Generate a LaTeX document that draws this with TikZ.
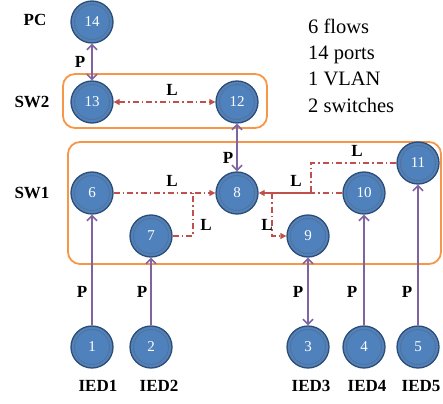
\documentclass[tikz,border=0pt]{standalone}
\usepackage{fontspec}
\setmainfont{Liberation Serif}
\usetikzlibrary{arrows.meta}

\definecolor{portblue}{HTML}{4F81BD}
\definecolor{portedge}{HTML}{2C4D75}
\definecolor{physline}{HTML}{8064A2}
\definecolor{logline}{HTML}{C0504D}
\definecolor{swbox}{HTML}{F79646}

\tikzset{
  pa/.tip={Straight Barb[length=5pt,width=10pt,line width=1.6pt]},
  la/.tip={Triangle[length=6pt,width=6pt]},
  port/.style={circle, fill=portblue, draw=portedge, line width=1.3pt,
    minimum size=42pt, inner sep=0pt, text=white,
    font=\fontsize{15}{15}\selectfont,
    path picture={\draw[portedge!80, line width=0.8pt]
      (path picture bounding box.center) circle (17.5pt);}},
  tag/.style={font=\bfseries\fontsize{17}{17}\selectfont},
  info/.style={anchor=base west, inner sep=0pt, font=\fontsize{20.5}{20.5}\selectfont},
  phys/.style={physline, line width=1.8pt},
  logic/.style={logline, line width=1.3pt, dash pattern=on 6pt off 3pt on 1.5pt off 3pt},
  swgroup/.style={swbox, line width=1.8pt, rounded corners=12pt},
}

\begin{document}
\begin{tikzpicture}[x=1pt,y=-1pt]
\useasboundingbox (0,0) rectangle (443,403);

% switch groups
\draw[swgroup] (63,74) rectangle (267,128);
\draw[swgroup] (68,142) rectangle (441,264);

% ports
\node[port] (n14) at (92,22) {14};
\node[port] (n13) at (92,102) {13};
\node[port] (n12) at (237,102) {12};
\node[port] (n6) at (92,193) {6};
\node[port] (n8) at (237,193) {8};
\node[port] (n10) at (364,193) {10};
\node[port] (n11) at (418,163) {11};
\node[port] (n7) at (151,236) {7};
\node[port] (n9) at (308,236) {9};
\node[port] (n1) at (92,347) {1};
\node[port] (n2) at (151,347) {2};
\node[port] (n3) at (308,347) {3};
\node[port] (n4) at (364,347) {4};
\node[port] (n5) at (418,347) {5};

% row and device names
\node[tag] (pc) at (35,20) {PC};
\node[tag] (sw2) at (32,102) {SW2};
\node[tag] (sw1) at (32,193) {SW1};
\node[tag] (ied1) at (98,386) {IED1};
\node[tag] (ied2) at (159,386) {IED2};
\node[tag] (ied3) at (311,386) {IED3};
\node[tag] (ied4) at (367,386) {IED4};
\node[tag] (ied5) at (421,386) {IED5};

% summary
\node[info] (info1) at (308,34) {6 flows};
\node[info] (info2) at (308,60) {14 ports};
\node[info] (info3) at (308,86) {1 VLAN};
\node[info] (info4) at (308,113) {2 switches};

% physical links
\draw[phys, pa-pa] (n14) -- (n13);
\draw[phys, pa-pa] (n12) -- (n8);
\draw[phys, -pa] (n1) -- (n6);
\draw[phys, -pa] (n2) -- (n7);
\draw[phys, pa-pa] (n9) -- (n3);
\draw[phys, -pa] (n4) -- (n10);
\draw[phys, -pa] (n5) -- (n11);

\node[tag] (p14) at (80,62) {P};
\node[tag] (p12) at (228,158) {P};
\node[tag] (p1) at (82,292) {P};
\node[tag] (p2) at (142,292) {P};
\node[tag] (p3) at (298,292) {P};
\node[tag] (p4) at (352,292) {P};
\node[tag] (p5) at (407,292) {P};

% logical links
\coordinate (j7) at (193,236);
\coordinate (m7) at (193,193);
\coordinate (k11) at (311,163);
\coordinate (m11) at (311,193);
\coordinate (m9) at (272,193);
\coordinate (k9) at (272,236);

\draw[logic, la-la] (n13) -- (n12);
\draw[logic, -la] (n6) -- (n8);
\draw[logic] (n7) -- (j7) -- (m7);
\draw[logic] (n10) -- (m11);
\draw[logic, solid, -la] (m11) -- (n8);
\draw[logic] (n11) -- (k11) -- (m11);
\draw[logic, -la] (m9) -- (k9) -- (n9);

\node[tag] (l13) at (172,90) {L};
\node[tag] (l6) at (172,181) {L};
\node[tag] (l7) at (206,225) {L};
\node[tag] (l10) at (296,181) {L};
\node[tag] (l11) at (357,151) {L};
\node[tag] (l9) at (267,225) {L};
\end{tikzpicture}
\end{document}
